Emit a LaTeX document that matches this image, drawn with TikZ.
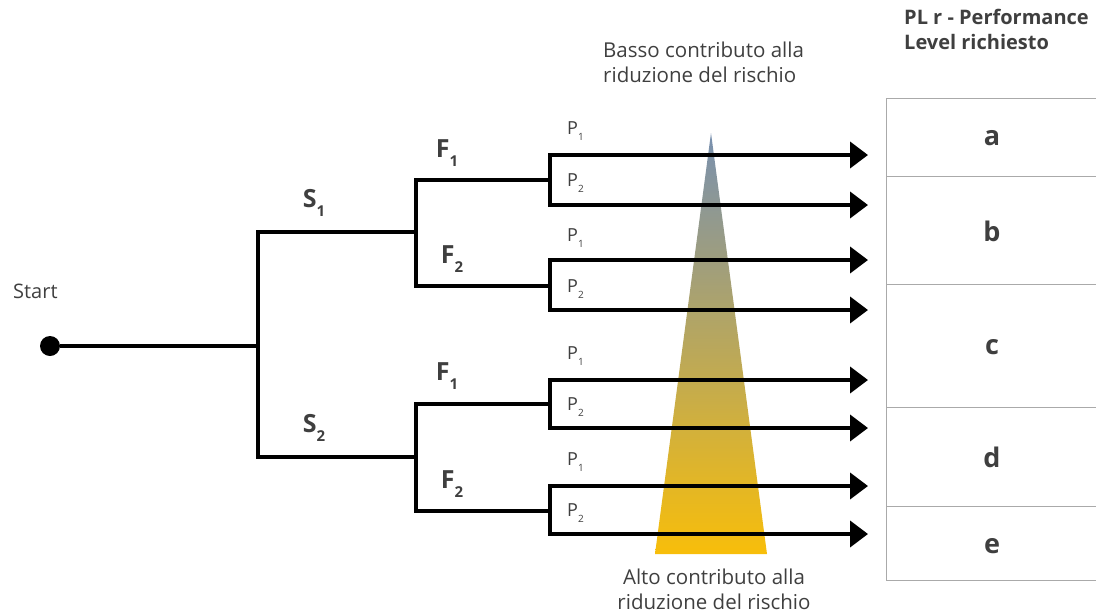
\documentclass[tikz,border=0pt]{standalone}
\usepackage{fontspec}
\setmainfont{Open Sans}
\usetikzlibrary{arrows.meta}
\definecolor{txt}{HTML}{3F3F3F}
\definecolor{gridc}{HTML}{AAAAAA}
\definecolor{topc}{HTML}{7890B0}
\definecolor{botc}{HTML}{F8BE0A}
\newcommand{\bsub}[1]{\raisebox{-0.35em}{\fontsize{15}{15}\selectfont #1}}
\newcommand{\psub}[1]{\raisebox{-0.3em}{\fontsize{10}{10}\selectfont #1}}
\begin{document}
\begin{tikzpicture}[x=1pt,y=-1pt,
  branch/.style={line width=4pt, black, line join=miter, line cap=rect},
  arrowline/.style={line width=4pt, black, -{Triangle[length=18pt,width=26pt]}},
  lbl/.style={text=txt, font=\fontsize{25}{28}\selectfont\bfseries, inner sep=0pt},
  plbl/.style={text=txt, font=\fontsize{18}{20}\selectfont, inner sep=0pt},
  note/.style={text=txt, font=\fontsize{20.5}{24.5}\selectfont, inner sep=0pt},
  cell/.style={text=txt, font=\fontsize{27}{30}\selectfont\bfseries, inner sep=0pt},
  gridline/.style={draw=gridc, line width=1pt}]
\useasboundingbox (0,0) rectangle (1096,614);

% gradient triangle
\shade[top color=topc, bottom color=botc] (711,133) -- (767,554) -- (655,554) -- cycle;

% table
\draw[gridline] (1096,98) -- (886,98) -- (886,580) -- (1096,580);
\foreach \yy in {176,284,407,506} \draw[gridline] (886,\yy) -- (1096,\yy);

% coordinates
\coordinate (j0) at (258,346);
\coordinate (s1) at (258,232);
\coordinate (s2) at (258,457);
\coordinate (g1) at (416,232);
\coordinate (g1t) at (416,180);
\coordinate (g1b) at (416,286);
\coordinate (g2) at (416,457);
\coordinate (g2t) at (416,404);
\coordinate (g2b) at (416,511);
\coordinate (p1) at (550,180);
\coordinate (p1t) at (550,155);
\coordinate (p1b) at (550,205);
\coordinate (p2) at (550,286);
\coordinate (p2t) at (550,260);
\coordinate (p2b) at (550,310);
\coordinate (p3) at (550,404);
\coordinate (p3t) at (550,380);
\coordinate (p3b) at (550,428);
\coordinate (p4) at (550,511);
\coordinate (p4t) at (550,486);
\coordinate (p4b) at (550,534);
\coordinate (e1) at (868,155);
\coordinate (e2) at (868,205);
\coordinate (e3) at (868,260);
\coordinate (e4) at (868,310);
\coordinate (e5) at (868,380);
\coordinate (e6) at (868,428);
\coordinate (e7) at (868,486);
\coordinate (e8) at (868,534);

% start
\node[circle, fill=black, minimum size=20pt, inner sep=0pt] (start) at (50,346) {};
\node[text=txt, font=\fontsize{20}{22}\selectfont, inner sep=0pt, anchor=west] (starttxt) at (13,291) {Start};
\draw[line width=4pt] (start) -- (j0);

% tree
\draw[branch] (g1) -- (s1) -- (s2) -- (g2);
\draw[branch] (p1) -- (g1t) -- (g1b) -- (p2);
\draw[branch] (p3) -- (g2t) -- (g2b) -- (p4);
\draw[branch] (p1t) -- (p1b);
\draw[branch] (p2t) -- (p2b);
\draw[branch] (p3t) -- (p3b);
\draw[branch] (p4t) -- (p4b);
\foreach \a/\b in {p1t/e1,p1b/e2,p2t/e3,p2b/e4,p3t/e5,p3b/e6,p4t/e7,p4b/e8}
  \draw[arrowline] (\a) -- (\b);

% labels
\node[lbl] (ls1) at (314,203) {S\bsub{1}};
\node[lbl] (ls2) at (314,428) {S\bsub{2}};
\node[lbl] (lf1a) at (447,153) {F\bsub{1}};
\node[lbl] (lf2a) at (452,259) {F\bsub{2}};
\node[lbl] (lf1b) at (447,376) {F\bsub{1}};
\node[lbl] (lf2b) at (452,484) {F\bsub{2}};

\foreach \n/\yy/\s in {a/131/1,b/183/2,c/238/1,d/289/2,e/356/1,f/407/2,g/462/1,h/513/2}
  \node[plbl, anchor=west] (lp\n) at (567,\yy) {P\psub{\s}};

% notes
\node[note, anchor=north west, align=left] (basso) at (603,42) {Basso contributo alla\\riduzione del rischio};
\node[note, anchor=north, align=center] (alto) at (714,569) {Alto contributo alla\\riduzione del rischio};
\node[text=txt, font=\fontsize{20}{25}\selectfont\bfseries, inner sep=0pt, anchor=north west, align=left] (title) at (904,9) {PL r - Performance\\Level richiesto};

% cells
\node[cell] (ca) at (992,138) {a};
\node[cell] (cb) at (992,231) {b};
\node[cell] (cc) at (992,347) {c};
\node[cell] (cd) at (992,457) {d};
\node[cell] (ce) at (992,546) {e};
\end{tikzpicture}
\end{document}
